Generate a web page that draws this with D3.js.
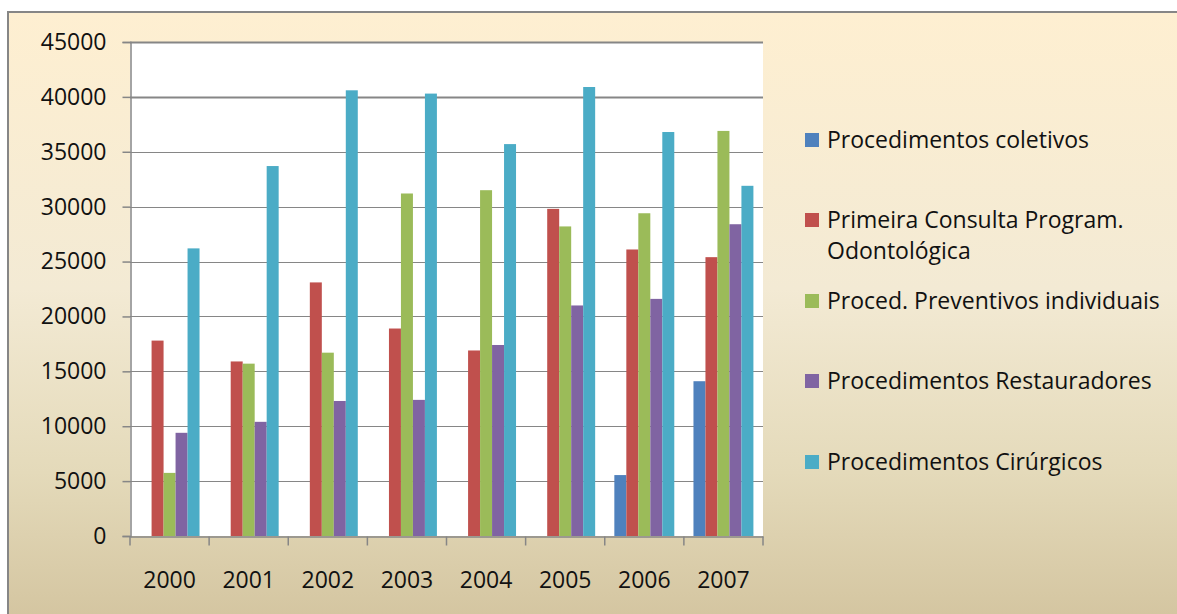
<!DOCTYPE html>
<html>
<head>
<meta charset="utf-8">
<script src="https://cdn.jsdelivr.net/npm/d3@7"></script>
<style>
html,body{margin:0;padding:0;background:#fff;}
svg{display:block;}
</style>
</head>
<body>
<script>
const years = ["2000","2001","2002","2003","2004","2005","2006","2007"];
const seriesNames = ["Procedimentos coletivos","Primeira Consulta Program. Odontológica","Proced. Preventivos individuais","Procedimentos Restauradores","Procedimentos Cirúrgicos"];
const legendLines = [["Procedimentos coletivos"],["Primeira Consulta Program.","Odontológica"],["Proced. Preventivos individuais"],["Procedimentos Restauradores"],["Procedimentos Cirúrgicos"]];
const coletivos     = [0, 0, 0, 0, 0, 0, 5550, 14100];
const primeira      = [17800, 15900, 23100, 18900, 16900, 29800, 26100, 25400];
const preventivos   = [5750, 15700, 16700, 31200, 31500, 28200, 29400, 36900];
const restauradores = [9400, 10400, 12300, 12400, 17400, 21000, 21600, 28400];
const cirurgicos    = [26200, 33700, 40600, 40300, 35700, 40900, 36800, 31900];
const yTicks = [0,5000,10000,15000,20000,25000,30000,35000,40000,45000];
const colors = ["#4F81BD","#C0504D","#9BBB59","#8064A2","#4BACC6"];

(function(){
const values = [coletivos, primeira, preventivos, restauradores, cirurgicos];
const W = 1177, H = 614;
const pL = 130, pR = 763, pT = 42, pB = 536;
const font = "'Open Sans', sans-serif";
const fs = 23;

const svg = d3.select("body").append("svg").attr("width", W).attr("height", H);
const defs = svg.append("defs");
const grad = defs.append("linearGradient").attr("id","bg").attr("x1",0).attr("y1",0).attr("x2",0).attr("y2",1);
grad.append("stop").attr("offset","0%").attr("stop-color","#FEEFD1");
grad.append("stop").attr("offset","45%").attr("stop-color","#F3EAD4");
grad.append("stop").attr("offset","75%").attr("stop-color","#E4DABA");
grad.append("stop").attr("offset","100%").attr("stop-color","#D3C49F");

svg.append("rect").attr("x",8).attr("y",12).attr("width",W).attr("height",H).attr("fill","url(#bg)")
  .attr("stroke","#868686").attr("stroke-width",2);

svg.append("rect").attr("x",pL).attr("y",pT).attr("width",pR-pL).attr("height",pB-pT).attr("fill","#fff");

const x0 = d3.scaleBand().domain(years).range([pL,pR]).paddingInner(0).paddingOuter(0);
const x1 = d3.scaleBand().domain(d3.range(5)).range([0,x0.bandwidth()]).paddingInner(0).paddingOuter(0.8);
const y = d3.scaleLinear().domain([0,45000]).range([pB,pT]);

// gridlines
svg.append("g").selectAll("line").data(yTicks.filter(d=>d>0)).join("line")
  .attr("x1",pL).attr("x2",pR).attr("y1",d=>Math.round(y(d))+0.5).attr("y2",d=>Math.round(y(d))+0.5)
  .attr("stroke","#868686").attr("stroke-width",d=>d>=40000?2:1.2);

// bars
const g = svg.append("g");
years.forEach((yr,i)=>{
  values.forEach((arr,s)=>{
    const v = arr[i];
    if(!v) return;
    g.append("rect")
      .attr("x", x0(yr)+x1(s))
      .attr("width", x1.bandwidth())
      .attr("y", y(v))
      .attr("height", y(0)-y(v))
      .attr("fill", colors[s]);
  });
});

// y axis
const yAxis = d3.axisLeft(y).tickValues(yTicks).tickSize(8).tickPadding(16).tickFormat(d3.format("d"));
const ya = svg.append("g").attr("transform",`translate(${pL+0.5},0)`).call(yAxis);
ya.select(".domain").attr("stroke","#868686").attr("stroke-width",1.5);
ya.selectAll(".tick line").attr("stroke","#868686").attr("stroke-width",1.5);
ya.selectAll(".tick text").attr("font-family",font).attr("font-size",fs).attr("fill","#111");

// x axis
const xAxis = d3.axisBottom(x0).tickSize(0).tickPadding(35);
const xa = svg.append("g").attr("transform",`translate(0,${pB+0.5})`).call(xAxis);
xa.select(".domain").attr("stroke","#868686").attr("stroke-width",1.5);
xa.selectAll(".tick text").attr("font-family",font).attr("font-size",fs).attr("fill","#111");
const bounds = years.map(d=>x0(d)).concat([pR]);
xa.selectAll(".bt").data(bounds).join("line").attr("class","bt")
  .attr("x1",d=>d).attr("x2",d=>d).attr("y1",0).attr("y2",9)
  .attr("stroke","#868686").attr("stroke-width",1.5);

// legend
const legY = [140, 220, 301, 381, 462];
const lg = svg.append("g");
legendLines.forEach((lines,i)=>{
  lg.append("rect").attr("x",805).attr("y",legY[i]-7).attr("width",14).attr("height",14).attr("fill",colors[i]);
  const t = lg.append("text").attr("x",827).attr("y",legY[i])
    .attr("font-family",font).attr("font-size",fs).attr("fill","#111");
  lines.forEach((ln,k)=>{
    t.append("tspan").attr("x",827).attr("dy", k===0?"0.36em":"31").text(ln);
  });
});
})();
</script>
</body>
</html>
